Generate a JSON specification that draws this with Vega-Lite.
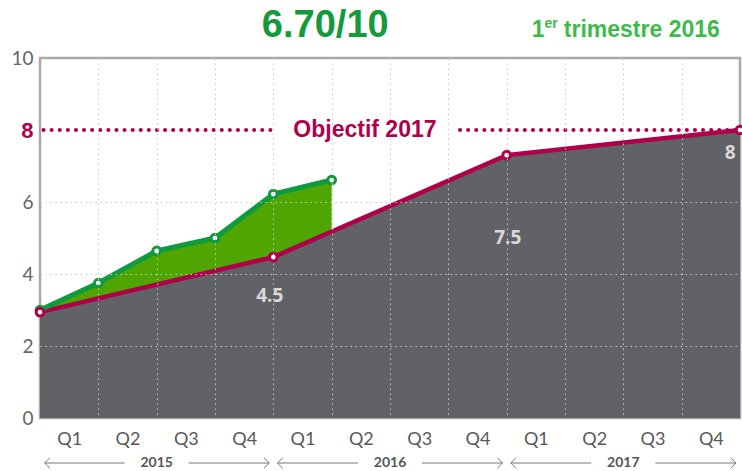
{
  "$schema": "https://vega.github.io/schema/vega-lite/v6.json",
  "width": 700,
  "height": 360,
  "autosize": "none",
  "padding": {"left": 40, "top": 58, "right": 2, "bottom": 53},
  "background": "white",
  "config": {"view": {"stroke": "#a9a9a9", "strokeWidth": 2.5}, "font": "Liberation Sans"},
  "datasets": {
    "score": [
      {"q": 0, "v": 3.0},
      {"q": 1, "v": 3.75},
      {"q": 2, "v": 4.64},
      {"q": 3, "v": 5.0},
      {"q": 4, "v": 6.22},
      {"q": 5, "v": 6.61}
    ],
    "target": [
      {"q": 0, "v": 2.94},
      {"q": 4, "v": 4.47},
      {"q": 8, "v": 7.3},
      {"q": 12, "v": 8.0}
    ],
    "goal": [
      {"a": 0.06, "b": 4.0, "v": 8},
      {"a": 7.2, "b": 12, "v": 8}
    ],
    "goalText": [{"q": 5.57, "v": 8, "t": "Objectif 2017"}],
    "valueLabels": [
      {"q": 3.94, "v": 3.39, "t": "4.5"},
      {"q": 8.02, "v": 5.0, "t": "7.5"},
      {"q": 11.83, "v": 7.36, "t": "8"}
    ],
    "years": [
      {"q": 2, "v": -1.25, "t": "2015"},
      {"q": 6, "v": -1.25, "t": "2016"},
      {"q": 10, "v": -1.25, "t": "2017"}
    ],
    "yearLines": [
      {"a": 0.08, "b": 1.45, "v": -1.25},
      {"a": 2.55, "b": 3.93, "v": -1.25},
      {"a": 4.07, "b": 5.45, "v": -1.25},
      {"a": 6.55, "b": 7.93, "v": -1.25},
      {"a": 8.07, "b": 9.45, "v": -1.25},
      {"a": 10.55, "b": 11.93, "v": -1.25}
    ],
    "arrowHeads": [
      {"q": 0.08, "v": -1.25, "dir": "left"},
      {"q": 3.93, "v": -1.25, "dir": "right"},
      {"q": 4.07, "v": -1.25, "dir": "left"},
      {"q": 7.93, "v": -1.25, "dir": "right"},
      {"q": 8.07, "v": -1.25, "dir": "left"},
      {"q": 11.93, "v": -1.25, "dir": "right"}
    ],
    "headline": [{"q": 4.89, "v": 10.58, "t": "6.70/10"}],
    "period1": [{"q": 8.43, "v": 10.58, "t": "1"}],
    "period2": [{"q": 8.65, "v": 10.83, "t": "er"}],
    "period3": [{"q": 8.98, "v": 10.58, "t": "trimestre 2016"}]
  },
  "layer": [
    {
      "data": {"name": "score"},
      "mark": {"type": "area", "color": "#4fa600", "opacity": 1},
      "encoding": {
        "x": {"field": "q", "type": "quantitative", "scale": {"domain": [0, 12], "nice": false},
          "axis": {"orient": "bottom", "values": [1, 2, 3, 4, 5, 6, 7, 8, 9, 10, 11], "grid": true, "gridColor": "#c8c8c8", "gridDash": [1.5, 3.5], "labels": false, "ticks": false, "domain": false, "title": null, "zindex": 1}},
        "y": {"field": "v", "type": "quantitative", "scale": {"domain": [0, 10], "nice": false},
          "axis": {
            "values": [0, 2, 4, 6, 8, 10], "title": null, "domain": false, "ticks": false, "labelPadding": 7,
            "labelFont": {"condition": {"test": "datum.value == 8", "value": "Liberation Sans"}, "value": "Lato"},
            "labelFontSize": {"condition": {"test": "datum.value == 8", "value": 22}, "value": 19},
            "labelColor": {"condition": {"test": "datum.value == 8", "value": "#b0004b"}, "value": "#666666"},
            "labelFontWeight": {"condition": {"test": "datum.value == 8", "value": "bold"}, "value": "normal"},
            "gridColor": "#c8c8c8", "gridDash": [1.5, 3.5],
            "gridOpacity": {"condition": {"test": "datum.value == 0 || datum.value >= 8", "value": 0}, "value": 1},
            "zindex": 1
          }}
      }
    },
    {
      "data": {"name": "target"},
      "mark": {"type": "area", "color": "#616266", "opacity": 1},
      "encoding": {
        "x": {"field": "q", "type": "quantitative",
          "axis": {"orient": "bottom", "values": [0.5, 1.5, 2.5, 3.5, 4.5, 5.5, 6.5, 7.5, 8.5, 9.5, 10.5, 11.5], "labelExpr": "'Q' + (floor(datum.value) % 4 + 1)", "grid": false, "ticks": false, "domain": false, "title": null, "labelPadding": 12, "labelFont": "Lato", "labelFontSize": 18, "labelColor": "#595959"}},
        "y": {"field": "v", "type": "quantitative"}
      }
    },
    {
      "data": {"name": "goal"},
      "mark": {"type": "rule", "color": "#b0004b", "strokeWidth": 4, "strokeDash": [0.1, 8], "strokeCap": "round"},
      "encoding": {
        "x": {"field": "a", "type": "quantitative", "axis": null},
        "x2": {"field": "b"},
        "y": {"field": "v", "type": "quantitative"}
      }
    },
    {
      "data": {"name": "goalText"},
      "mark": {"type": "text", "color": "#b0004b", "fontSize": 23, "fontWeight": "bold", "align": "center", "baseline": "middle"},
      "encoding": {
        "x": {"field": "q", "type": "quantitative", "axis": null},
        "y": {"field": "v", "type": "quantitative"},
        "text": {"field": "t"}
      }
    },
    {
      "data": {"name": "target"},
      "mark": {"type": "line", "color": "#b0004b", "strokeWidth": 4.5},
      "encoding": {
        "x": {"field": "q", "type": "quantitative", "axis": null},
        "y": {"field": "v", "type": "quantitative"}
      }
    },
    {
      "data": {"name": "score"},
      "mark": {"type": "line", "color": "#0f9a3e", "strokeWidth": 5},
      "encoding": {
        "x": {"field": "q", "type": "quantitative", "axis": null},
        "y": {"field": "v", "type": "quantitative"}
      }
    },
    {
      "data": {"name": "score"},
      "mark": {"type": "point", "filled": false, "fill": "white", "fillOpacity": 1, "stroke": "#0f9a3e", "strokeWidth": 3, "size": 60, "opacity": 1},
      "encoding": {
        "x": {"field": "q", "type": "quantitative", "axis": null},
        "y": {"field": "v", "type": "quantitative"}
      }
    },
    {
      "data": {"name": "target"},
      "mark": {"type": "point", "filled": false, "fill": "white", "fillOpacity": 1, "stroke": "#b0004b", "strokeWidth": 3, "size": 60, "opacity": 1},
      "encoding": {
        "x": {"field": "q", "type": "quantitative", "axis": null},
        "y": {"field": "v", "type": "quantitative"}
      }
    },
    {
      "data": {"name": "valueLabels"},
      "mark": {"type": "text", "color": "#d9d9d9", "fontSize": 19, "fontWeight": "bold", "align": "center", "baseline": "middle", "font": "Open Sans"},
      "encoding": {
        "x": {"field": "q", "type": "quantitative", "axis": null},
        "y": {"field": "v", "type": "quantitative"},
        "text": {"field": "t"}
      }
    },
    {
      "data": {"name": "yearLines"},
      "mark": {"type": "rule", "color": "#777777", "strokeWidth": 1},
      "encoding": {
        "x": {"field": "a", "type": "quantitative", "axis": null},
        "x2": {"field": "b"},
        "y": {"field": "v", "type": "quantitative"}
      }
    },
    {
      "data": {"name": "arrowHeads"},
      "mark": {"type": "point", "filled": false, "stroke": "#777777", "strokeWidth": 1, "size": 110, "opacity": 1},
      "encoding": {
        "x": {"field": "q", "type": "quantitative", "axis": null},
        "y": {"field": "v", "type": "quantitative"},
        "shape": {"field": "dir", "type": "nominal", "legend": null, "scale": {"domain": ["left", "right"], "range": ["M1,-1L0,0L1,1", "M-1,-1L0,0L-1,1"]}}
      }
    },
    {
      "data": {"name": "years"},
      "mark": {"type": "text", "color": "#555555", "fontSize": 14, "fontWeight": "bold", "align": "center", "baseline": "middle", "font": "Lato"},
      "encoding": {
        "x": {"field": "q", "type": "quantitative", "axis": null},
        "y": {"field": "v", "type": "quantitative"},
        "text": {"field": "t"}
      }
    },
    {
      "data": {"name": "headline"},
      "mark": {"type": "text", "color": "#14993c", "fontSize": 38, "fontWeight": "bold", "align": "center", "baseline": "alphabetic"},
      "encoding": {
        "x": {"field": "q", "type": "quantitative", "axis": null},
        "y": {"field": "v", "type": "quantitative"},
        "text": {"field": "t"}
      }
    },
    {
      "data": {"name": "period1"},
      "mark": {"type": "text", "color": "#3dbb4a", "fontSize": 23, "fontWeight": "bold", "align": "left", "baseline": "alphabetic"},
      "encoding": {
        "x": {"field": "q", "type": "quantitative", "axis": null},
        "y": {"field": "v", "type": "quantitative"},
        "text": {"field": "t"}
      }
    },
    {
      "data": {"name": "period2"},
      "mark": {"type": "text", "color": "#3dbb4a", "fontSize": 14, "fontWeight": "bold", "align": "left", "baseline": "alphabetic"},
      "encoding": {
        "x": {"field": "q", "type": "quantitative", "axis": null},
        "y": {"field": "v", "type": "quantitative"},
        "text": {"field": "t"}
      }
    },
    {
      "data": {"name": "period3"},
      "mark": {"type": "text", "color": "#3dbb4a", "fontSize": 23, "fontWeight": "bold", "align": "left", "baseline": "alphabetic"},
      "encoding": {
        "x": {"field": "q", "type": "quantitative", "axis": null},
        "y": {"field": "v", "type": "quantitative"},
        "text": {"field": "t"}
      }
    }
  ],
  "resolve": {"axis": {"x": "independent"}}
}
